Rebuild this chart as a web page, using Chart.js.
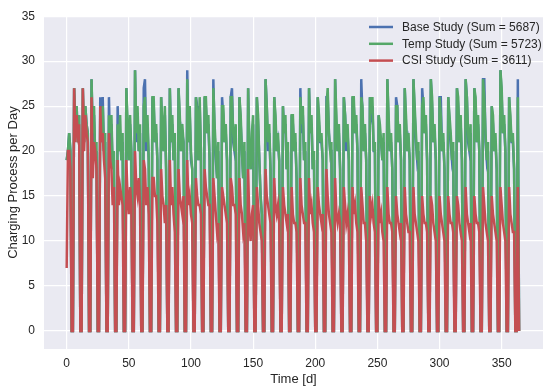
<!DOCTYPE html>
<html>
<head>
<meta charset="utf-8">
<script src="https://cdn.jsdelivr.net/npm/chart.js@4.4.1/dist/chart.umd.min.js"></script>
<style>
  html, body { margin: 0; padding: 0; background: #fff; }
</style>
</head>
<body>
<canvas id="chargeChart" width="550" height="391"></canvas>
<script>
// Ladevorgaenge pro Tag, eine Zeile = eine Woche (Di, Mi, Do, Fr, Sa, So, Mo)
const baseStudy = [
  19, 20, 22, 20, 0, 0, 27,
  22, 25, 21, 24, 0, 0, 27,
  21, 25, 23, 22, 0, 0, 28,
  21, 24, 19, 20, 0, 0, 26,
  21, 26, 20, 21, 0, 0, 26,
  20, 23, 18, 19, 0, 0, 25,
  20, 22, 19, 21, 0, 0, 27,
  22, 19, 23, 20, 0, 0, 29,
  21, 24, 20, 22, 0, 0, 27,
  28, 20, 23, 19, 0, 0, 26,
  25, 21, 22, 19, 0, 0, 26,
  22, 20, 24, 18, 0, 0, 27,
  21, 23, 19, 21, 0, 0, 27,
  23, 20, 22, 21, 0, 0, 29,
  21, 24, 19, 18, 0, 0, 26,
  25, 19, 25, 20, 0, 0, 26,
  25, 22, 23, 19, 0, 0, 28,
  22, 19, 17, 20, 0, 0, 26,
  24, 21, 22, 19, 0, 0, 26,
  27, 21, 20, 22, 0, 0, 26,
  23, 20, 17, 20, 0, 0, 27,
  20, 18, 21, 23, 0, 0, 26,
  23, 19, 15, 13, 0, 0, 28,
  25, 20, 22, 18, 0, 0, 26,
  23, 20, 21, 19, 0, 0, 25,
  22, 23, 18, 20, 0, 0, 24,
  23, 20, 21, 17, 0, 0, 27,
  22, 24, 19, 20, 0, 0, 27,
  22, 23, 18, 19, 0, 0, 26,
  23, 21, 21, 19, 0, 0, 26,
  26, 22, 20, 20, 0, 0, 28,
  22, 20, 22, 18, 0, 0, 26,
  24, 20, 22, 19, 0, 0, 26,
  25, 22, 23, 20, 0, 0, 28,
  24, 20, 22, 19, 0, 0, 26,
  24, 25, 20, 20, 0, 0, 24,
  22, 21, 19, 21, 0, 0, 28,
  23, 20, 21, 18, 0, 0, 26,
  25, 21, 22, 19, 0, 0, 27,
  23, 20, 21, 19, 0, 0, 28,
  24, 21, 19, 20, 0, 0, 27,
  25, 22, 23, 19, 0, 0, 28,
  25, 21, 22, 19, 0, 0, 26,
  26, 20, 21, 18, 0, 0, 26,
  23, 21, 19, 20, 0, 0, 27,
  25, 21, 23, 19, 0, 0, 28,
  26, 21, 20, 22, 0, 0, 27,
  25, 21, 23, 20, 0, 0, 28,
  28, 21, 19, 20, 0, 0, 25,
  23, 20, 21, 18, 0, 0, 29,
  26, 22, 23, 20, 0, 0, 26,
  23, 21, 21, 18, 0, 0, 28,
  0
];

const tempStudy = [
  19, 20, 22, 20, 0, 0, 27,
  22, 25, 21, 24, 0, 0, 27,
  21, 25, 23, 22, 0, 0, 28,
  22, 25, 19, 21, 0, 0, 24,
  23, 25, 20, 22, 0, 0, 24,
  22, 24, 18, 20, 0, 0, 23,
  20, 24, 19, 22, 0, 0, 27,
  23, 19, 24, 20, 0, 0, 29,
  22, 25, 20, 23, 0, 0, 25,
  26, 21, 24, 19, 0, 0, 26,
  26, 21, 23, 19, 0, 0, 26,
  23, 20, 25, 18, 0, 0, 27,
  21, 24, 19, 22, 0, 0, 27,
  24, 20, 23, 21, 0, 0, 28,
  21, 25, 20, 18, 0, 0, 26,
  24, 19, 26, 20, 0, 0, 26,
  26, 22, 24, 19, 0, 0, 27,
  23, 20, 17, 21, 0, 0, 25,
  25, 21, 23, 19, 0, 0, 26,
  26, 22, 20, 23, 0, 0, 26,
  24, 20, 17, 21, 0, 0, 27,
  20, 18, 22, 24, 0, 0, 26,
  24, 19, 15, 13, 0, 0, 28,
  25, 21, 23, 18, 0, 0, 26,
  24, 20, 22, 19, 0, 0, 25,
  22, 24, 18, 21, 0, 0, 24,
  24, 20, 22, 17, 0, 0, 26,
  23, 25, 19, 21, 0, 0, 27,
  22, 24, 18, 20, 0, 0, 26,
  24, 21, 22, 19, 0, 0, 25,
  27, 22, 20, 21, 0, 0, 28,
  24, 20, 23, 18, 0, 0, 26,
  24, 21, 23, 19, 0, 0, 26,
  26, 22, 24, 20, 0, 0, 26,
  25, 20, 23, 19, 0, 0, 26,
  25, 26, 20, 21, 0, 0, 24,
  23, 21, 19, 22, 0, 0, 28,
  24, 20, 22, 18, 0, 0, 25,
  25, 21, 23, 19, 0, 0, 27,
  24, 20, 22, 19, 0, 0, 28,
  25, 22, 19, 21, 0, 0, 25,
  26, 22, 24, 19, 0, 0, 28,
  26, 21, 23, 19, 0, 0, 26,
  24, 20, 22, 18, 0, 0, 26,
  24, 22, 19, 21, 0, 0, 27,
  26, 21, 24, 19, 0, 0, 28,
  26, 22, 20, 23, 0, 0, 27,
  26, 21, 24, 20, 0, 0, 28,
  26, 22, 19, 21, 0, 0, 25,
  24, 20, 22, 18, 0, 0, 29,
  27, 22, 24, 20, 0, 0, 26,
  24, 21, 22, 18, 0, 0, 26,
  0
];

const csiStudy = [
  7, 20, 20, 18, 0, 0, 27,
  21, 24, 22, 23, 0, 0, 27,
  20, 24, 22, 21, 0, 0, 26,
  17, 21, 20, 18, 0, 0, 25,
  21, 22, 19, 17, 0, 0, 22,
  19, 18, 14, 16, 0, 0, 19,
  14, 16, 15, 14, 0, 0, 19,
  15, 13, 16, 14, 0, 0, 20,
  16, 15, 17, 14, 0, 0, 19,
  18, 14, 16, 13, 0, 0, 17,
  17, 15, 15, 12, 0, 0, 18,
  15, 14, 12, 14, 0, 0, 19,
  14, 16, 13, 11, 0, 0, 18,
  15, 14, 13, 15, 0, 0, 19,
  14, 15, 13, 12, 0, 0, 17,
  15, 14, 14, 13, 0, 0, 18,
  16, 15, 14, 14, 0, 0, 17,
  15, 13, 11, 12, 0, 0, 16,
  15, 14, 13, 12, 0, 0, 17,
  16, 14, 14, 13, 0, 0, 17,
  14, 13, 11, 12, 0, 0, 18,
  12, 10, 13, 14, 0, 0, 16,
  14, 12, 11, 10, 0, 0, 18,
  15, 14, 13, 12, 0, 0, 17,
  14, 13, 14, 12, 0, 0, 16,
  14, 13, 12, 13, 0, 0, 16,
  13, 12, 12, 11, 0, 0, 17,
  14, 13, 12, 12, 0, 0, 17,
  13, 14, 12, 11, 0, 0, 16,
  14, 13, 12, 13, 0, 0, 18,
  15, 13, 12, 11, 0, 0, 17,
  13, 12, 13, 12, 0, 0, 16,
  14, 12, 13, 11, 0, 0, 16,
  13, 14, 12, 11, 0, 0, 16,
  14, 12, 12, 10, 0, 0, 15,
  13, 14, 12, 11, 0, 0, 15,
  12, 13, 11, 10, 0, 0, 16,
  13, 12, 12, 11, 0, 0, 15,
  13, 12, 11, 12, 0, 0, 16,
  13, 12, 11, 11, 0, 0, 16,
  13, 12, 11, 10, 0, 0, 15,
  13, 12, 12, 11, 0, 0, 15,
  14, 12, 11, 10, 0, 0, 15,
  13, 12, 11, 10, 0, 0, 15,
  13, 12, 12, 11, 0, 0, 15,
  14, 12, 11, 10, 0, 0, 16,
  13, 12, 11, 12, 0, 0, 15,
  13, 12, 12, 11, 0, 0, 16,
  14, 12, 11, 10, 0, 0, 15,
  13, 12, 11, 10, 0, 0, 16,
  14, 12, 11, 10, 0, 0, 16,
  13, 12, 11, 11, 0, 0, 16,
  0
];

const seriesLabels = [
  "Base Study (Sum = 5687)",
  "Temp Study (Sum = 5723)",
  "CSI Study (Sum = 3611)",
];
const seriesColors = ["#4c72b0", "#55a868", "#c44e52"];
const xTicks = [0, 50, 100, 150, 200, 250, 300, 350];
const yTicks = [0, 5, 10, 15, 20, 25, 30, 35];

const FONT = "'Liberation Sans', Arial, sans-serif";
const TEXT = "#262626";

// Tag = Index im Array
const toPoints = (arr) => arr.map((v, i) => ({ x: i, y: v }));

// grauer Hintergrund wie seaborn darkgrid
const plotBackground = {
  id: "plotBackground",
  beforeDraw(chart) {
    const { ctx, chartArea: a } = chart;
    ctx.save();
    ctx.fillStyle = "#eaeaf2";
    ctx.fillRect(a.left, a.top, a.right - a.left, a.bottom - a.top);
    ctx.restore();
  },
};

// Legende oben rechts im Plot, ohne Rahmen
const innerLegend = {
  id: "innerLegend",
  afterDraw(chart) {
    const ctx = chart.ctx;
    const x0 = 369;
    const y0 = 27;
    ctx.save();
    ctx.font = "12px " + FONT;
    ctx.textBaseline = "middle";
    seriesLabels.forEach((label, i) => {
      const y = y0 + i * 16.8;
      ctx.strokeStyle = seriesColors[i];
      ctx.lineWidth = 2.5;
      ctx.beginPath();
      ctx.moveTo(x0, y);
      ctx.lineTo(x0 + 24, y);
      ctx.stroke();
      ctx.fillStyle = TEXT;
      ctx.fillText(label, x0 + 33, y + 0.5);
    });
    ctx.restore();
  },
};

const series = [baseStudy, tempStudy, csiStudy];

new Chart(document.getElementById("chargeChart"), {
  type: "line",
  data: {
    datasets: series.map((arr, i) => ({
      label: seriesLabels[i],
      data: toPoints(arr),
      borderColor: seriesColors[i],
      borderWidth: 2.5,
      pointRadius: 0,
      tension: 0,
      fill: false,
      order: 2 - i, // CSI oben
    })),
  },
  options: {
    responsive: false,
    animation: false,
    events: [],
    devicePixelRatio: 1,
    layout: { padding: { top: 13, right: 7, left: 0, bottom: 0 } },
    plugins: {
      legend: { display: false },
      tooltip: { enabled: false },
    },
    scales: {
      x: {
        type: "linear",
        min: -18.25,
        max: 383.25,
        afterBuildTicks: (s) => { s.ticks = xTicks.map((v) => ({ value: v })); },
        afterFit: (s) => { s.height = 42; },
        border: { display: false },
        grid: { color: "#ffffff", lineWidth: 1.2, drawTicks: false },
        ticks: {
          color: TEXT,
          font: { family: FONT, size: 12 },
          padding: 7,
          maxRotation: 0,
        },
        title: {
          display: true,
          text: "Time [d]",
          color: TEXT,
          font: { family: FONT, size: 13 },
          padding: { top: 0, bottom: 4 },
        },
      },
      y: {
        type: "linear",
        min: -2,
        max: 35,
        afterBuildTicks: (s) => { s.ticks = yTicks.map((v) => ({ value: v })); },
        afterFit: (s) => { s.width = 44; },
        border: { display: false },
        grid: { color: "#ffffff", lineWidth: 1.2, drawTicks: false },
        ticks: {
          color: TEXT,
          font: { family: FONT, size: 12 },
          padding: 9,
        },
        title: {
          display: true,
          text: "Charging Process per Day",
          color: TEXT,
          font: { family: FONT, size: 13 },
          padding: { top: 6, bottom: 0 },
        },
      },
    },
  },
  plugins: [plotBackground, innerLegend],
});
</script>
</body>
</html>
